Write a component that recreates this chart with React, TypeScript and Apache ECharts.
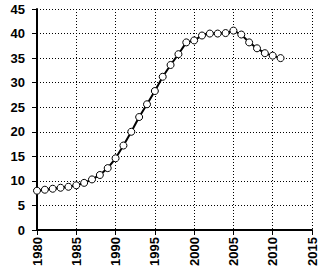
import React, { useEffect, useRef } from "react";
import * as echarts from "echarts";

const years = [1980, 1981, 1982, 1983, 1984, 1985, 1986, 1987, 1988, 1989, 1990, 1991, 1992, 1993, 1994, 1995, 1996, 1997, 1998, 1999, 2000, 2001, 2002, 2003, 2004, 2005, 2006, 2007, 2008, 2009, 2010, 2011];
const values = [8.0, 8.2, 8.4, 8.6, 8.8, 9.1, 9.6, 10.3, 11.2, 12.6, 14.6, 17.2, 20.0, 23.0, 25.6, 28.3, 31.2, 33.6, 35.8, 38.2, 38.6, 39.6, 40.0, 40.0, 40.1, 40.6, 39.8, 38.2, 37.0, 36.0, 35.5, 35.0];
const xMin = 1980;
const xMax = 2015;
const yMin = 0;
const yMax = 45;

export default function App() {
  const ref = useRef<HTMLDivElement>(null);
  useEffect(() => {
    if (!ref.current) return;
    const chart = echarts.init(ref.current, null, { renderer: "svg" });
    const font = { fontFamily: "Liberation Sans", fontSize: 13, fontWeight: "bold" as const, color: "#000" };
    chart.setOption({
      animation: false,
      backgroundColor: "#fff",
      grid: { left: 37, right: 12, top: 9, bottom: 47, containLabel: false },
      xAxis: {
        type: "value",
        min: xMin,
        max: xMax,
        interval: 5,
        axisLine: { show: true, lineStyle: { color: "#000", width: 2 } },
        axisTick: { show: true, inside: false, length: 5, lineStyle: { color: "#000", width: 1 } },
        axisLabel: { ...font, rotate: 90, margin: 7, hideOverlap: false, formatter: (v: number) => String(v) },
        splitLine: { show: true, lineStyle: { color: "#000", type: [1, 2], width: 1 } },
      },
      yAxis: {
        type: "value",
        min: yMin,
        max: yMax,
        interval: 5,
        axisLine: { show: true, lineStyle: { color: "#000", width: 2 } },
        axisTick: { show: true, inside: false, length: 5, lineStyle: { color: "#000", width: 1 } },
        axisLabel: { ...font, margin: 12 },
        splitLine: { show: true, lineStyle: { color: "#000", type: [1, 2], width: 1 } },
      },
      series: [
        {
          type: "line",
          data: years.map((y, i) => [y, values[i]]),
          symbol: "circle",
          symbolSize: 7,
          showAllSymbol: true,
          lineStyle: { color: "#000", width: 2 },
          itemStyle: { color: "#fff", borderColor: "#000", borderWidth: 1 },
        },
      ],
    });
    return () => chart.dispose();
  }, []);
  return <div ref={ref} style={{ position: "fixed", left: 0, top: 0, width: 324, height: 277 }} />;
}
